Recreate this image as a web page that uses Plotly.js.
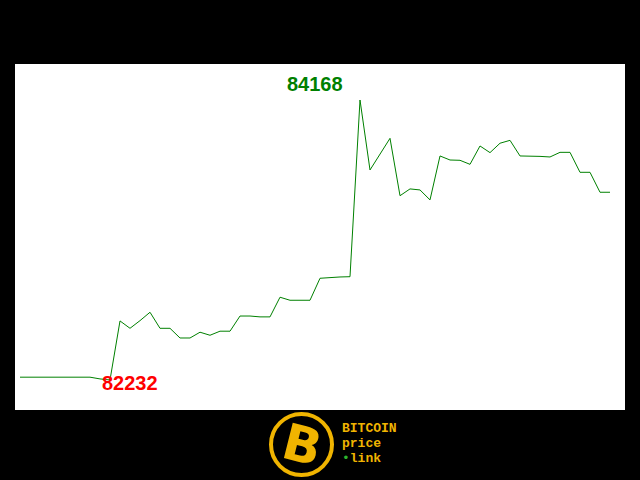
<!DOCTYPE html>
<html>
<head>
<meta charset="utf-8">
<script src="https://cdn.plot.ly/plotly-3.0.1.min.js"></script>
<style>html,body{margin:0;padding:0;background:#000;}#chart{width:640px;height:480px;}</style>
</head>
<body>
<div id="chart"></div>
<script>
// Bitcoin price samples (USD)
const prices = [
  82251, 82251, 82251, 82251, 82251, 82251, 82251, 82251, 82239, 82232,
  82640, 82589, 82642, 82700, 82589, 82589, 82522, 82522, 82562, 82541,
  82569, 82569, 82674, 82674, 82668, 82668, 82804, 82783, 82783, 82783,
  82935, 82942, 82944, 82946, 84168, 83684, 83795, 83903, 83506, 83553,
  83546, 83477, 83781, 83753, 83751, 83723, 83850, 83804, 83869, 83889,
  83781, 83781, 83778, 83774, 83806, 83806, 83668, 83668, 83530, 83530
];
const steps = prices.map((_, i) => i);
const logoLines = ["BITCOIN", "price", "link"];

const maxVal = Math.max(...prices);
const minVal = Math.min(...prices);
const maxIdx = prices.indexOf(maxVal);
const minIdx = prices.indexOf(minVal);

const trace = {
  x: steps, y: prices, type: 'scatter', mode: 'lines',
  line: {color: '#008000', width: 1}, hoverinfo: 'skip'
};

const gold = '#f0b400';
const monoFont = {family: 'Liberation Mono, Courier New, monospace', size: 13, color: gold};
const layout = {
  width: 640, height: 480,
  paper_bgcolor: '#000000', plot_bgcolor: '#ffffff',
  margin: {l: 15, r: 15, t: 64, b: 70, pad: 0},
  showlegend: false,
  xaxis: {range: [-0.5, 60.5], visible: false, fixedrange: true},
  yaxis: {range: [82024, 84417], visible: false, fixedrange: true},
  annotations: [
    {x: maxIdx, y: maxVal, xref: 'x', yref: 'y', text: '<b>' + maxVal + '</b>', showarrow: false,
     xanchor: 'right', yanchor: 'middle', xshift: -15, yshift: 16,
     font: {family: 'Liberation Sans, Arial, sans-serif', size: 20, color: '#008000'}},
    {x: minIdx, y: minVal, xref: 'x', yref: 'y', text: '<b>' + minVal + '</b>', showarrow: false,
     xanchor: 'left', yanchor: 'middle', xshift: -10, yshift: -3,
     font: {family: 'Liberation Sans, Arial, sans-serif', size: 20, color: '#ff0000'}},
    {x: 302, y: 445, xref: 'paper', yref: 'paper', text: '<b>B</b>', showarrow: false,
     xanchor: 'center', yanchor: 'middle',
     font: {family: 'DejaVu Sans, sans-serif', size: 50, color: gold}, textangle: 14},
    {x: 340, y: 428, xref: 'paper', yref: 'paper', text: '<b>' + logoLines[0] + '</b>', showarrow: false,
     xanchor: 'left', yanchor: 'middle', font: monoFont},
    {x: 340, y: 443, xref: 'paper', yref: 'paper', text: '<b>' + logoLines[1] + '</b>', showarrow: false,
     xanchor: 'left', yanchor: 'middle', font: monoFont},
    {x: 340, y: 458, xref: 'paper', yref: 'paper', text: '<span style="color:#2db52d">•</span><b>' + logoLines[2] + '</b>', showarrow: false,
     xanchor: 'left', yanchor: 'middle', font: monoFont}
  ],
  shapes: [
    {type: 'circle', xref: 'paper', yref: 'paper', x0: 271, x1: 332, y0: 414, y1: 475,
     line: {color: gold, width: 4}, fillcolor: '#000000'}
  ]
};

// convert pixel positions of logo items to paper fractions
const pw = 640 - 30, ph = 480 - 134;
function px(x) { return (x - 15) / pw; }
function py(y) { return (480 - 70 - y) / ph; }
layout.annotations.slice(2).forEach(a => { a.x = px(a.x); a.y = py(a.y); });
layout.shapes.forEach(s => { s.x0 = px(s.x0); s.x1 = px(s.x1); s.y0 = py(s.y0); s.y1 = py(s.y1); });

Plotly.newPlot('chart', [trace], layout, {displayModeBar: false, staticPlot: true});
</script>
</body>
</html>
